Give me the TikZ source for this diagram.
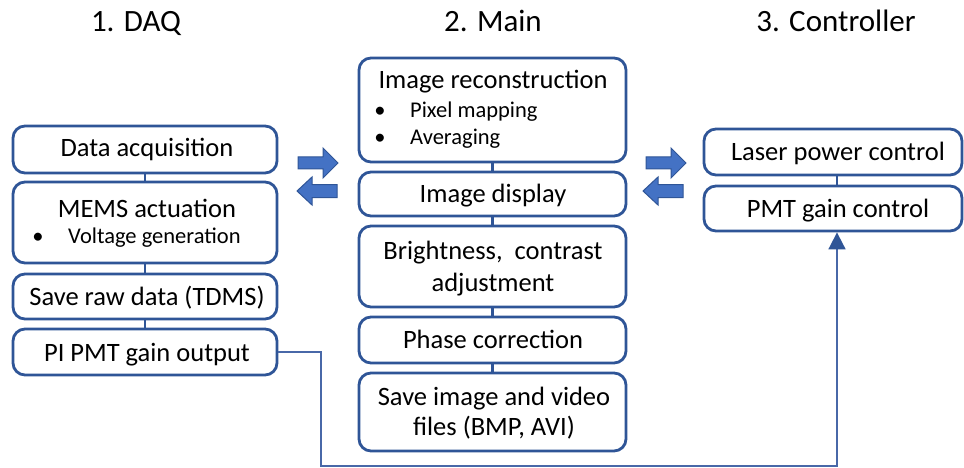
\documentclass[tikz,border=0pt]{standalone}
\usepackage{fontspec}
\setmainfont{Carlito}
\usetikzlibrary{arrows.meta}
\definecolor{boxblue}{RGB}{47,85,151}
\definecolor{arrfill}{RGB}{68,114,196}
\definecolor{fbblue}{RGB}{72,104,168}
\begin{document}
\begin{tikzpicture}[x=1pt,y=-1pt,
  box/.style={draw=boxblue, line width=2.8pt, rounded corners=12pt, fill=white, inner sep=0pt},
  link/.style={draw=boxblue, line width=2.8pt},
  txt/.style={anchor=base, inner sep=0pt, font=\fontsize{26.5}{30}\selectfont},
  sub/.style={anchor=base west, inner sep=0pt, font=\fontsize{22.5}{26}\selectfont},
  bul/.style={anchor=base, inner sep=0pt, font=\fontsize{22.5}{26}\selectfont},
  hdr/.style={anchor=base, inner sep=0pt, font=\fontsize{31}{36}\selectfont},
  blk/.style={fill=arrfill, draw=boxblue, line width=1pt, line join=miter},
  fb/.style={draw=fbblue, line width=1.8pt}
]
\useasboundingbox (0,0) rectangle (964,468);

% headers
\node[hdr] (h1) at (136,32) {1. DAQ};
\node[hdr] (h2) at (493,32) {2. Main};
\node[hdr] (h3) at (836,32) {3. Controller};

% left column
\node[box, minimum width=264pt, minimum height=47pt] (da) at (145,149.5) {};
\node[box, minimum width=264pt, minimum height=81pt] (mems) at (145,222.5) {};
\node[box, minimum width=264pt, minimum height=45pt] (raw) at (145,296.5) {};
\node[box, minimum width=264pt, minimum height=46pt] (pi) at (145,352) {};

% middle column
\node[box, minimum width=267pt, minimum height=104pt] (rec) at (492.5,110) {};
\node[box, minimum width=267pt, minimum height=44pt] (disp) at (492.5,194) {};
\node[box, minimum width=267pt, minimum height=81pt] (bri) at (492.5,266.5) {};
\node[box, minimum width=267pt, minimum height=46pt] (ph) at (492.5,340) {};
\node[box, minimum width=267pt, minimum height=78pt] (sav) at (492.5,412) {};

% right column
\node[box, minimum width=258pt, minimum height=46pt] (las) at (833,152) {};
\node[box, minimum width=258pt, minimum height=45pt] (pmt) at (833,208.5) {};

% links
\draw[link] (da.south) -- (mems.north);
\draw[link] (mems.south) -- (raw.north);
\draw[link] (raw.south) -- (pi.north);
\draw[link] (rec.south) -- (disp.north);
\draw[link] (disp.south) -- (bri.north);
\draw[link] (bri.south) -- (ph.north);
\draw[link] (ph.south) -- (sav.north);
\draw[link] ([xshift=4pt]las.south) -- ([xshift=4pt]pmt.north);

% texts
\node[txt] (tda) at (147,157) {Data acquisition};
\node[txt] (tmems) at (147,217) {MEMS actuation};
\node[bul] (b1) at (38,243) {•};
\node[sub] (tvg) at (68,243) {Voltage generation};
\node[txt] (traw) at (147,305) {Save raw data (TDMS)};
\node[txt] (tpi) at (147,361) {PI PMT gain output};

\node[txt] (trec) at (493,89) {Image reconstruction};
\node[bul] (b2) at (380,118) {•};
\node[sub] (tpix) at (410,118) {Pixel mapping};
\node[bul] (b3) at (380,145) {•};
\node[sub] (tavg) at (410,145) {Averaging};
\node[txt] (tdisp) at (493,202.5) {Image display};
\node[txt] (tbri1) at (493,259) {Brightness,\ \ contrast};
\node[txt] (tbri2) at (493,291) {adjustment};
\node[txt] (tph) at (493,348.5) {Phase correction};
\node[txt] (tsav1) at (494,405) {Save image and video};
\node[txt] (tsav2) at (494,435) {files (BMP, AVI)};

\node[txt] (tlas) at (838,160.5) {Laser power control};
\node[txt] (tpmt) at (838,217) {PMT gain control};

% block arrows
\draw[blk] (298,157) -- (323,157) -- (323,148) -- (338,163) -- (323,178) -- (323,169) -- (298,169) -- cycle;
\draw[blk] (337,184.5) -- (312,184.5) -- (312,177) -- (297,191) -- (312,205) -- (312,197.5) -- (337,197.5) -- cycle;
\draw[blk] (646,157) -- (671,157) -- (671,148) -- (686,163) -- (671,178) -- (671,169) -- (646,169) -- cycle;
\draw[blk] (683,184.5) -- (658,184.5) -- (658,177) -- (643,191) -- (658,205) -- (658,197.5) -- (683,197.5) -- cycle;

% feedback line
\coordinate (fb1) at (321,466);
\coordinate (fb2) at (837,466);
\draw[fb, -{Triangle[width=17pt,length=17pt,color=boxblue,fill=boxblue]}] (pi.east) -| (fb1) -- (fb2) -- ([xshift=4pt]pmt.south);
\end{tikzpicture}
\end{document}
